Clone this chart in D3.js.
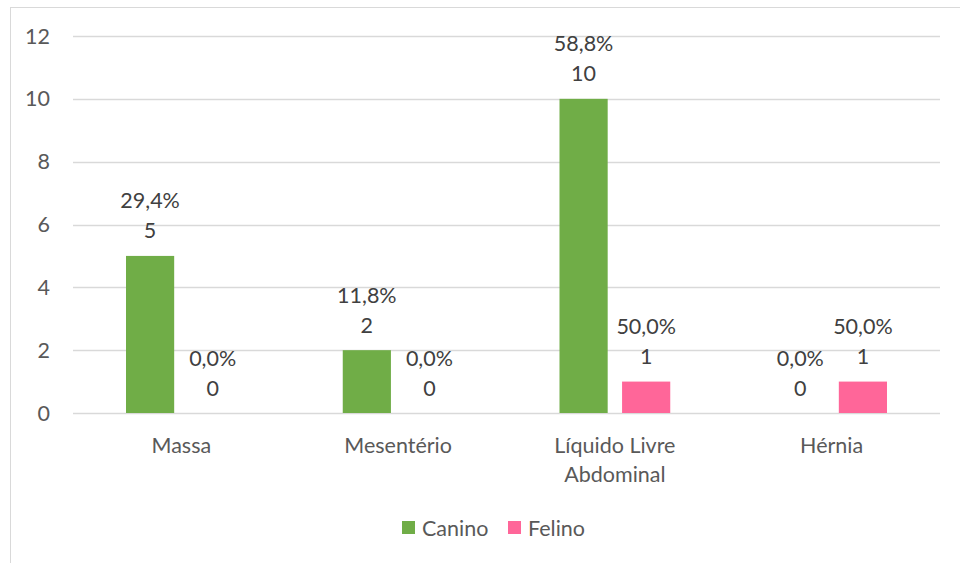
<!DOCTYPE html>
<html>
<head>
<meta charset="utf-8">
<script src="https://cdn.jsdelivr.net/npm/d3@7"></script>
<style>
  body { margin: 0; background: #fff; }
  svg text { font-family: Lato, "Open Sans", sans-serif; }
</style>
</head>
<body>
<div id="chart"></div>
<script>
const categories = [["Massa"], ["Mesentério"], ["Líquido Livre", "Abdominal"], ["Hérnia"]];
const seriesNames = ["Canino", "Felino"];
const caninoValues = [5, 2, 10, 0];
const felinoValues = [0, 0, 1, 1];
const caninoPercents = ["29,4%", "11,8%", "58,8%", "0,0%"];
const felinoPercents = ["0,0%", "0,0%", "50,0%", "50,0%"];
const yTicks = [0, 2, 4, 6, 8, 10, 12];
const colors = ["#70AD47", "#FF6699"];

const svgWidth = 960;
const svgHeight = 563;
const plot = { left: 73, right: 940, top: 36, bottom: 413 };
const fontSize = 21.5;

const svg = d3.select("#chart")
  .append("svg")
  .attr("width", svgWidth)
  .attr("height", svgHeight);

// outer frame (cut off on right and bottom like the reference)
svg.append("rect")
  .attr("x", 10.5).attr("y", 7.5)
  .attr("width", 980).attr("height", 600)
  .attr("fill", "none").attr("stroke", "#D9D9D9");

const xScale = d3.scaleBand()
  .domain(d3.range(categories.length))
  .range([plot.left, plot.right]);

const inner = d3.scaleBand()
  .domain(seriesNames)
  .range([53, xScale.bandwidth() - 53])
  .paddingInner(0.23);

const yScale = d3.scaleLinear()
  .domain([0, 12])
  .range([plot.bottom, plot.top]);

// gridlines
svg.append("g")
  .selectAll("line")
  .data(yTicks)
  .enter().append("line")
  .attr("x1", plot.left).attr("x2", plot.right)
  .attr("y1", d => Math.round(yScale(d)) + 0.5)
  .attr("y2", d => Math.round(yScale(d)) + 0.5)
  .attr("stroke", "#D9D9D9")
  .attr("stroke-width", 1.3);

// y axis labels
svg.append("g")
  .selectAll("text")
  .data(yTicks)
  .enter().append("text")
  .attr("x", 50)
  .attr("y", d => yScale(d))
  .attr("dy", "0.35em")
  .attr("text-anchor", "end")
  .attr("font-size", fontSize)
  .attr("fill", "#595959")
  .text(d => d);

const rows = categories.map((c, i) => [
  { s: "Canino", i, v: caninoValues[i], p: caninoPercents[i] },
  { s: "Felino", i, v: felinoValues[i], p: felinoPercents[i] }
]).flat();

const color = d3.scaleOrdinal().domain(seriesNames).range(colors);

svg.append("g")
  .selectAll("rect")
  .data(rows)
  .enter().append("rect")
  .attr("x", d => xScale(d.i) + inner(d.s))
  .attr("width", inner.bandwidth())
  .attr("y", d => yScale(d.v))
  .attr("height", d => yScale(0) - yScale(d.v))
  .attr("fill", d => color(d.s));

const labels = svg.append("g")
  .attr("font-size", fontSize)
  .attr("fill", "#404040")
  .attr("text-anchor", "middle");

labels.selectAll(".val")
  .data(rows)
  .enter().append("text")
  .attr("x", d => xScale(d.i) + inner(d.s) + inner.bandwidth() / 2)
  .attr("y", d => yScale(d.v) - 25)
  .attr("dy", "0.35em")
  .text(d => d.v);

labels.selectAll(".pct")
  .data(rows)
  .enter().append("text")
  .attr("x", d => xScale(d.i) + inner(d.s) + inner.bandwidth() / 2)
  .attr("y", d => yScale(d.v) - 55)
  .attr("dy", "0.35em")
  .text(d => d.p);

// category labels
const cat = svg.append("g")
  .selectAll("text")
  .data(categories)
  .enter().append("text")
  .attr("x", (d, i) => xScale(i) + xScale.bandwidth() / 2)
  .attr("y", 445)
  .attr("text-anchor", "middle")
  .attr("font-size", fontSize)
  .attr("fill", "#595959");

cat.selectAll("tspan")
  .data(d => d)
  .enter().append("tspan")
  .attr("x", function () { return d3.select(this.parentNode).attr("x"); })
  .attr("dy", (d, j) => j === 0 ? "0.35em" : "1.35em")
  .text(d => d);

// legend
const legendX = [402, 508];
const legend = svg.append("g")
  .selectAll("g")
  .data(seriesNames)
  .enter().append("g")
  .attr("transform", (d, i) => `translate(${legendX[i]},521)`);

legend.append("rect")
  .attr("width", 13).attr("height", 13)
  .attr("fill", d => color(d));

legend.append("text")
  .attr("x", 20).attr("y", 7)
  .attr("dy", "0.35em")
  .attr("font-size", fontSize)
  .attr("fill", "#595959")
  .text(d => d);
</script>
</body>
</html>
